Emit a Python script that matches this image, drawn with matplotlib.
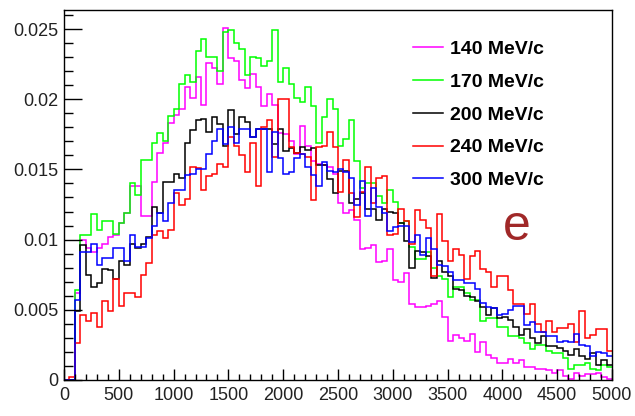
import numpy as np
import matplotlib
matplotlib.use("Agg")
import matplotlib.pyplot as plt
from matplotlib.ticker import MultipleLocator

plt.rcParams['font.family'] = ['Liberation Sans', 'DejaVu Sans']

# bin edges: 100 bins of width 50 from 0 to 5000
bin_edges = np.arange(0, 5001, 50)

labels = ["140 MeV/c", "170 MeV/c", "200 MeV/c", "240 MeV/c", "300 MeV/c"]
colors = ["#ff00ff", "#00ff00", "#000000", "#ff0000", "#0000ff"]

m140 = [0, 0, 0.0062, 0.0100, 0.0094, 0.0091, 0.0094, 0.0097, 0.0102, 0.0103,
        0.0112, 0.0119, 0.0138, 0.0138, 0.0117, 0.0117, 0.0141, 0.0162, 0.0169, 0.0183,
        0.0189, 0.0193, 0.0209, 0.0201, 0.0216, 0.0196, 0.0226, 0.0222, 0.0211, 0.0251,
        0.0229, 0.0227, 0.0214, 0.0208, 0.0218, 0.0209, 0.0195, 0.0204, 0.0196, 0.0176,
        0.0175, 0.0170, 0.0161, 0.0181, 0.0167, 0.0156, 0.0154, 0.0153, 0.0152, 0.0147,
        0.0126, 0.0119, 0.0121, 0.0114, 0.0093, 0.0094, 0.0096, 0.0084, 0.0085, 0.0093,
        0.0071, 0.0070, 0.0076, 0.0054, 0.0052, 0.0052, 0.0053, 0.0054, 0.0056, 0.0045,
        0.0028, 0.0032, 0.0030, 0.0028, 0.0033, 0.0020, 0.0027, 0.0018, 0.0016, 0.0012,
        0.0012, 0.0015, 0.0012, 0.0014, 0.0009, 0.0009, 0.0008, 0.0008, 0.0007, 0.0005,
        0.0007, 0.0003, 0.0001, 0.0005, 0.0003, 0.0004, 0.0004, 0.0005, 0.0002, 0.0001]

m170 = [0, 0, 0.0064, 0.0103, 0.0103, 0.0118, 0.0107, 0.0113, 0.0113, 0.0104,
        0.0112, 0.0119, 0.0140, 0.0132, 0.0157, 0.0157, 0.0169, 0.0176, 0.0170, 0.0188,
        0.0193, 0.0211, 0.0217, 0.0212, 0.0234, 0.0243, 0.0230, 0.0230, 0.0220, 0.0248,
        0.0249, 0.0240, 0.0236, 0.0217, 0.0230, 0.0229, 0.0224, 0.0227, 0.0249, 0.0212,
        0.0222, 0.0211, 0.0201, 0.0198, 0.0209, 0.0195, 0.0169, 0.0187, 0.0200, 0.0193,
        0.0167, 0.0172, 0.0185, 0.0156, 0.0137, 0.0140, 0.0140, 0.0131, 0.0126, 0.0135,
        0.0127, 0.0112, 0.0113, 0.0095, 0.0086, 0.0086, 0.0091, 0.0080, 0.0074, 0.0072,
        0.0059, 0.0066, 0.0066, 0.0062, 0.0057, 0.0057, 0.0042, 0.0044, 0.0044, 0.0038,
        0.0038, 0.0031, 0.0031, 0.0030, 0.0026, 0.0022, 0.0025, 0.0025, 0.0021, 0.0019,
        0.0019, 0.0016, 0.0008, 0.0011, 0.0011, 0.0012, 0.0008, 0.0007, 0.0011, 0.0009]

m200 = [0, 0, 0.0049, 0.0096, 0.0075, 0.0066, 0.0069, 0.0079, 0.0078, 0.0072,
        0.0085, 0.0082, 0.0097, 0.0094, 0.0097, 0.0102, 0.0123, 0.0119, 0.0141, 0.0141,
        0.0147, 0.0144, 0.0169, 0.0178, 0.0185, 0.0186, 0.0177, 0.0187, 0.0182, 0.0167,
        0.0192, 0.0175, 0.0187, 0.0184, 0.0173, 0.0179, 0.0179, 0.0179, 0.0168, 0.0179,
        0.0163, 0.0165, 0.0162, 0.0166, 0.0164, 0.0165, 0.0153, 0.0153, 0.0143, 0.0133,
        0.0149, 0.0149, 0.0126, 0.0129, 0.0133, 0.0122, 0.0122, 0.0114, 0.0122, 0.0120,
        0.0119, 0.0112, 0.0099, 0.0080, 0.0092, 0.0091, 0.0088, 0.0073, 0.0085, 0.0077,
        0.0074, 0.0065, 0.0064, 0.0060, 0.0059, 0.0056, 0.0052, 0.0046, 0.0051, 0.0044,
        0.0045, 0.0043, 0.0038, 0.0032, 0.0036, 0.0030, 0.0026, 0.0031, 0.0024, 0.0024,
        0.0023, 0.0021, 0.0018, 0.0022, 0.0017, 0.0015, 0.0019, 0.0011, 0.0014, 0.0011]

m240 = [0, 0.0002, 0.0026, 0.0046, 0.0042, 0.0048, 0.0038, 0.0056, 0.0049, 0.0072,
        0.0053, 0.0062, 0.0062, 0.0059, 0.0075, 0.0083, 0.0103, 0.0106, 0.0101, 0.0107,
        0.0133, 0.0125, 0.0129, 0.0152, 0.0151, 0.0135, 0.0145, 0.0147, 0.0154, 0.0152,
        0.0173, 0.0167, 0.0160, 0.0148, 0.0169, 0.0138, 0.0180, 0.0185, 0.0159, 0.0200,
        0.0200, 0.0166, 0.0162, 0.0161, 0.0159, 0.0128, 0.0166, 0.0167, 0.0177, 0.0166,
        0.0134, 0.0157, 0.0133, 0.0116, 0.0134, 0.0152, 0.0126, 0.0144, 0.0145, 0.0103,
        0.0104, 0.0122, 0.0113, 0.0097, 0.0121, 0.0114, 0.0108, 0.0074, 0.0118, 0.0099,
        0.0085, 0.0093, 0.0089, 0.0072, 0.0088, 0.0092, 0.0079, 0.0077, 0.0066, 0.0074,
        0.0074, 0.0064, 0.0054, 0.0054, 0.0047, 0.0054, 0.0040, 0.0034, 0.0042, 0.0034,
        0.0037, 0.0037, 0.0040, 0.0027, 0.0049, 0.0030, 0.0032, 0.0036, 0.0036, 0.0021]

m300 = [0, 0, 0.0057, 0.0091, 0.0091, 0.0097, 0.0082, 0.0087, 0.0087, 0.0094,
        0.0094, 0.0085, 0.0103, 0.0095, 0.0095, 0.0101, 0.0110, 0.0119, 0.0113, 0.0126,
        0.0135, 0.0135, 0.0146, 0.0147, 0.0150, 0.0150, 0.0161, 0.0170, 0.0179, 0.0168,
        0.0180, 0.0169, 0.0179, 0.0179, 0.0173, 0.0179, 0.0179, 0.0148, 0.0177, 0.0158,
        0.0147, 0.0148, 0.0158, 0.0161, 0.0152, 0.0146, 0.0138, 0.0155, 0.0149, 0.0148,
        0.0150, 0.0148, 0.0144, 0.0125, 0.0142, 0.0117, 0.0137, 0.0123, 0.0119, 0.0106,
        0.0109, 0.0110, 0.0110, 0.0098, 0.0103, 0.0089, 0.0101, 0.0093, 0.0082, 0.0081,
        0.0077, 0.0071, 0.0071, 0.0069, 0.0069, 0.0065, 0.0055, 0.0052, 0.0051, 0.0046,
        0.0047, 0.0050, 0.0053, 0.0053, 0.0039, 0.0041, 0.0034, 0.0034, 0.0031, 0.0031,
        0.0027, 0.0028, 0.0027, 0.0033, 0.0025, 0.0024, 0.0017, 0.0020, 0.0019, 0.0017]

series = [m140, m170, m200, m240, m300]

xticks = [0, 500, 1000, 1500, 2000, 2500, 3000, 3500, 4000, 4500, 5000]
xtick_labels = [str(t) for t in xticks]
yticks = [0, 0.005, 0.01, 0.015, 0.02, 0.025]
ytick_labels = ["0", "0.005", "0.01", "0.015", "0.02", "0.025"]

fig = plt.figure(figsize=(6.35, 4.16), dpi=100)
ax = fig.add_axes([64/635, 1 - 380/416, (612 - 64)/635, (380 - 9.5)/416])

handles = []
for vals, col, lab in zip(series, colors, labels):
    ax.stairs(vals, bin_edges, baseline=None, color=col, lw=1.1, label=lab)
    handles.append(plt.Line2D([], [], color=col, lw=1.1))

ax.set_xlim(0, 5000)
ax.set_ylim(0, 0.02639)

ax.set_xticks(xticks, xtick_labels)
ax.set_yticks(yticks, ytick_labels)
ax.xaxis.set_minor_locator(MultipleLocator(100))
ax.yaxis.set_minor_locator(MultipleLocator(0.001))

ax.tick_params(axis='x', which='major', direction='in', length=8, width=1,
               labelsize=13, pad=5, colors='black', labelcolor='#222222')
ax.tick_params(axis='x', which='minor', direction='in', length=4, width=1)
ax.tick_params(axis='y', which='major', direction='in', length=13, width=1,
               labelsize=13, pad=4, labelcolor='#222222')
ax.tick_params(axis='y', which='minor', direction='in', length=6.5, width=1)
ax.tick_params(top=False, right=False, which='both')

for sp in ax.spines.values():
    sp.set_linewidth(1.0)
    sp.set_color('black')

ax.legend(handles, labels, loc='upper left',
          bbox_to_anchor=((413 - 64) / 548, (380 - 40.5) / 370.5),
          frameon=False, prop={'weight': 'bold', 'size': 14},
          handlelength=1.55, handletextpad=0.35, labelspacing=0.78,
          borderpad=0, borderaxespad=0)

ax.text(4130, 0.0109, "e", fontsize=36, color='#a02828', ha='center', va='center')

fig.savefig("out.png", dpi=100)
